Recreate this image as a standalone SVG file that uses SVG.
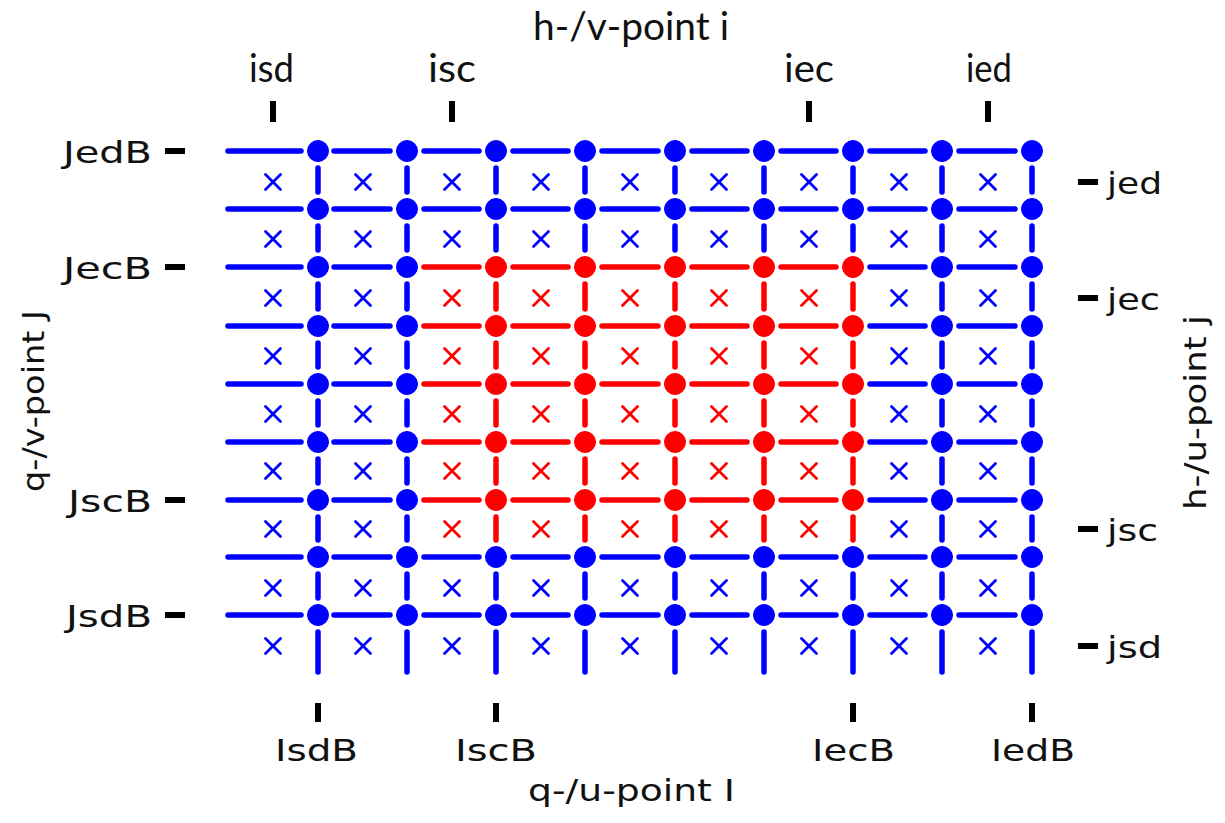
<svg xmlns="http://www.w3.org/2000/svg" xmlns:xlink="http://www.w3.org/1999/xlink" width="1225" height="823" viewBox="0 0 1225 823">
<style>
.b{stroke:#0000ff;fill:#0000ff}
.r{stroke:#ff0000;fill:#ff0000}
.ln{fill:none;stroke-width:5.5;stroke-linecap:round}
.xx{fill:none;stroke-width:2.8;stroke-linecap:round}
.t{font-family:Lato,"Open Sans",sans-serif;font-size:38px;fill:#111}
.c{font-family:"DejaVu Sans",sans-serif;font-size:31px;fill:#111}
.tk{stroke:#000;stroke-width:6;fill:none}
</style>
<defs>
<circle id="d" r="10.5"/>
<path id="x" d="M-7.5,-7.5L7.5,7.5M7.5,-7.5L-7.5,7.5"/>
</defs>
<rect width="1225" height="823" fill="#fff"/>
<g id="connectors">
<path class="ln b" d="M228,151H301M334,151H390M424,151H479M513,151H568M602,151H658M692,151H747M781,151H836M870,151H925M959,151H1015
M228,209H301M334,209H390M424,209H479M513,209H568M602,209H658M692,209H747M781,209H836M870,209H925M959,209H1015
M228,557H301M334,557H390M424,557H479M513,557H568M602,557H658M692,557H747M781,557H836M870,557H925M959,557H1015
M228,615H301M334,615H390M424,615H479M513,615H568M602,615H658M692,615H747M781,615H836M870,615H925M959,615H1015
M228,267H301M334,267H390M870,267H925M959,267H1015
M228,326H301M334,326H390M870,326H925M959,326H1015
M228,384H301M334,384H390M870,384H925M959,384H1015
M228,442H301M334,442H390M870,442H925M959,442H1015
M228,500H301M334,500H390M870,500H925M959,500H1015"/>
<path class="ln r" d="M424,267H479M513,267H568M602,267H658M692,267H747M781,267H836
M424,326H479M513,326H568M602,326H658M692,326H747M781,326H836
M424,384H479M513,384H568M602,384H658M692,384H747M781,384H836
M424,442H479M513,442H568M602,442H658M692,442H747M781,442H836
M424,500H479M513,500H568M602,500H658M692,500H747M781,500H836"/>
<path class="ln b" d="M318,168V192M318,226V250M318,284V309M318,343V367M318,401V425M318,459V483M318,517V540M318,574V598M318,632V672
M407,168V192M407,226V250M407,284V309M407,343V367M407,401V425M407,459V483M407,517V540M407,574V598M407,632V672
M942,168V192M942,226V250M942,284V309M942,343V367M942,401V425M942,459V483M942,517V540M942,574V598M942,632V672
M1032,168V192M1032,226V250M1032,284V309M1032,343V367M1032,401V425M1032,459V483M1032,517V540M1032,574V598M1032,632V672
M496,168V192M496,226V250M496,574V598M496,632V672
M585,168V192M585,226V250M585,574V598M585,632V672
M675,168V192M675,226V250M675,574V598M675,632V672
M764,168V192M764,226V250M764,574V598M764,632V672
M853,168V192M853,226V250M853,574V598M853,632V672"/>
<path class="ln r" d="M496,284V309M496,343V367M496,401V425M496,459V483M496,517V540
M585,284V309M585,343V367M585,401V425M585,459V483M585,517V540
M675,284V309M675,343V367M675,401V425M675,459V483M675,517V540
M764,284V309M764,343V367M764,401V425M764,459V483M764,517V540
M853,284V309M853,343V367M853,401V425M853,459V483M853,517V540"/>
</g>
<g id="crosses" class="xx">
<g class="b">
<use href="#x" x="273" y="182"/><use href="#x" x="363" y="182"/><use href="#x" x="452" y="182"/><use href="#x" x="541" y="182"/><use href="#x" x="630" y="182"/><use href="#x" x="719" y="182"/><use href="#x" x="809" y="182"/><use href="#x" x="899" y="182"/><use href="#x" x="988" y="182"/>
<use href="#x" x="273" y="239"/><use href="#x" x="363" y="239"/><use href="#x" x="452" y="239"/><use href="#x" x="541" y="239"/><use href="#x" x="630" y="239"/><use href="#x" x="719" y="239"/><use href="#x" x="809" y="239"/><use href="#x" x="899" y="239"/><use href="#x" x="988" y="239"/>
<use href="#x" x="273" y="588"/><use href="#x" x="363" y="588"/><use href="#x" x="452" y="588"/><use href="#x" x="541" y="588"/><use href="#x" x="630" y="588"/><use href="#x" x="719" y="588"/><use href="#x" x="809" y="588"/><use href="#x" x="899" y="588"/><use href="#x" x="988" y="588"/>
<use href="#x" x="273" y="646"/><use href="#x" x="363" y="646"/><use href="#x" x="452" y="646"/><use href="#x" x="541" y="646"/><use href="#x" x="630" y="646"/><use href="#x" x="719" y="646"/><use href="#x" x="809" y="646"/><use href="#x" x="899" y="646"/><use href="#x" x="988" y="646"/>
<use href="#x" x="273" y="298"/><use href="#x" x="363" y="298"/><use href="#x" x="899" y="298"/><use href="#x" x="988" y="298"/>
<use href="#x" x="273" y="356"/><use href="#x" x="363" y="356"/><use href="#x" x="899" y="356"/><use href="#x" x="988" y="356"/>
<use href="#x" x="273" y="414"/><use href="#x" x="363" y="414"/><use href="#x" x="899" y="414"/><use href="#x" x="988" y="414"/>
<use href="#x" x="273" y="471"/><use href="#x" x="363" y="471"/><use href="#x" x="899" y="471"/><use href="#x" x="988" y="471"/>
<use href="#x" x="273" y="529"/><use href="#x" x="363" y="529"/><use href="#x" x="899" y="529"/><use href="#x" x="988" y="529"/>
</g>
<g class="r">
<use href="#x" x="452" y="298"/><use href="#x" x="541" y="298"/><use href="#x" x="630" y="298"/><use href="#x" x="719" y="298"/><use href="#x" x="809" y="298"/>
<use href="#x" x="452" y="356"/><use href="#x" x="541" y="356"/><use href="#x" x="630" y="356"/><use href="#x" x="719" y="356"/><use href="#x" x="809" y="356"/>
<use href="#x" x="452" y="414"/><use href="#x" x="541" y="414"/><use href="#x" x="630" y="414"/><use href="#x" x="719" y="414"/><use href="#x" x="809" y="414"/>
<use href="#x" x="452" y="471"/><use href="#x" x="541" y="471"/><use href="#x" x="630" y="471"/><use href="#x" x="719" y="471"/><use href="#x" x="809" y="471"/>
<use href="#x" x="452" y="529"/><use href="#x" x="541" y="529"/><use href="#x" x="630" y="529"/><use href="#x" x="719" y="529"/><use href="#x" x="809" y="529"/>
</g>
</g>
<g id="nodes" style="stroke:none">
<g id="n1-1" class="b"><use href="#d" x="318" y="151"/></g><g id="n1-2" class="b"><use href="#d" x="407" y="151"/></g><g id="n1-3" class="b"><use href="#d" x="496" y="151"/></g><g id="n1-4" class="b"><use href="#d" x="585" y="151"/></g><g id="n1-5" class="b"><use href="#d" x="675" y="151"/></g><g id="n1-6" class="b"><use href="#d" x="764" y="151"/></g><g id="n1-7" class="b"><use href="#d" x="853" y="151"/></g><g id="n1-8" class="b"><use href="#d" x="942" y="151"/></g><g id="n1-9" class="b"><use href="#d" x="1032" y="151"/></g>
<g id="n2-1" class="b"><use href="#d" x="318" y="209"/></g><g id="n2-2" class="b"><use href="#d" x="407" y="209"/></g><g id="n2-3" class="b"><use href="#d" x="496" y="209"/></g><g id="n2-4" class="b"><use href="#d" x="585" y="209"/></g><g id="n2-5" class="b"><use href="#d" x="675" y="209"/></g><g id="n2-6" class="b"><use href="#d" x="764" y="209"/></g><g id="n2-7" class="b"><use href="#d" x="853" y="209"/></g><g id="n2-8" class="b"><use href="#d" x="942" y="209"/></g><g id="n2-9" class="b"><use href="#d" x="1032" y="209"/></g>
<g id="n3-1" class="b"><use href="#d" x="318" y="267"/></g><g id="n3-2" class="b"><use href="#d" x="407" y="267"/></g><g id="n3-3" class="r"><use href="#d" x="496" y="267"/></g><g id="n3-4" class="r"><use href="#d" x="585" y="267"/></g><g id="n3-5" class="r"><use href="#d" x="675" y="267"/></g><g id="n3-6" class="r"><use href="#d" x="764" y="267"/></g><g id="n3-7" class="r"><use href="#d" x="853" y="267"/></g><g id="n3-8" class="b"><use href="#d" x="942" y="267"/></g><g id="n3-9" class="b"><use href="#d" x="1032" y="267"/></g>
<g id="n4-1" class="b"><use href="#d" x="318" y="326"/></g><g id="n4-2" class="b"><use href="#d" x="407" y="326"/></g><g id="n4-3" class="r"><use href="#d" x="496" y="326"/></g><g id="n4-4" class="r"><use href="#d" x="585" y="326"/></g><g id="n4-5" class="r"><use href="#d" x="675" y="326"/></g><g id="n4-6" class="r"><use href="#d" x="764" y="326"/></g><g id="n4-7" class="r"><use href="#d" x="853" y="326"/></g><g id="n4-8" class="b"><use href="#d" x="942" y="326"/></g><g id="n4-9" class="b"><use href="#d" x="1032" y="326"/></g>
<g id="n5-1" class="b"><use href="#d" x="318" y="384"/></g><g id="n5-2" class="b"><use href="#d" x="407" y="384"/></g><g id="n5-3" class="r"><use href="#d" x="496" y="384"/></g><g id="n5-4" class="r"><use href="#d" x="585" y="384"/></g><g id="n5-5" class="r"><use href="#d" x="675" y="384"/></g><g id="n5-6" class="r"><use href="#d" x="764" y="384"/></g><g id="n5-7" class="r"><use href="#d" x="853" y="384"/></g><g id="n5-8" class="b"><use href="#d" x="942" y="384"/></g><g id="n5-9" class="b"><use href="#d" x="1032" y="384"/></g>
<g id="n6-1" class="b"><use href="#d" x="318" y="442"/></g><g id="n6-2" class="b"><use href="#d" x="407" y="442"/></g><g id="n6-3" class="r"><use href="#d" x="496" y="442"/></g><g id="n6-4" class="r"><use href="#d" x="585" y="442"/></g><g id="n6-5" class="r"><use href="#d" x="675" y="442"/></g><g id="n6-6" class="r"><use href="#d" x="764" y="442"/></g><g id="n6-7" class="r"><use href="#d" x="853" y="442"/></g><g id="n6-8" class="b"><use href="#d" x="942" y="442"/></g><g id="n6-9" class="b"><use href="#d" x="1032" y="442"/></g>
<g id="n7-1" class="b"><use href="#d" x="318" y="500"/></g><g id="n7-2" class="b"><use href="#d" x="407" y="500"/></g><g id="n7-3" class="r"><use href="#d" x="496" y="500"/></g><g id="n7-4" class="r"><use href="#d" x="585" y="500"/></g><g id="n7-5" class="r"><use href="#d" x="675" y="500"/></g><g id="n7-6" class="r"><use href="#d" x="764" y="500"/></g><g id="n7-7" class="r"><use href="#d" x="853" y="500"/></g><g id="n7-8" class="b"><use href="#d" x="942" y="500"/></g><g id="n7-9" class="b"><use href="#d" x="1032" y="500"/></g>
<g id="n8-1" class="b"><use href="#d" x="318" y="557"/></g><g id="n8-2" class="b"><use href="#d" x="407" y="557"/></g><g id="n8-3" class="b"><use href="#d" x="496" y="557"/></g><g id="n8-4" class="b"><use href="#d" x="585" y="557"/></g><g id="n8-5" class="b"><use href="#d" x="675" y="557"/></g><g id="n8-6" class="b"><use href="#d" x="764" y="557"/></g><g id="n8-7" class="b"><use href="#d" x="853" y="557"/></g><g id="n8-8" class="b"><use href="#d" x="942" y="557"/></g><g id="n8-9" class="b"><use href="#d" x="1032" y="557"/></g>
<g id="n9-1" class="b"><use href="#d" x="318" y="615"/></g><g id="n9-2" class="b"><use href="#d" x="407" y="615"/></g><g id="n9-3" class="b"><use href="#d" x="496" y="615"/></g><g id="n9-4" class="b"><use href="#d" x="585" y="615"/></g><g id="n9-5" class="b"><use href="#d" x="675" y="615"/></g><g id="n9-6" class="b"><use href="#d" x="764" y="615"/></g><g id="n9-7" class="b"><use href="#d" x="853" y="615"/></g><g id="n9-8" class="b"><use href="#d" x="942" y="615"/></g><g id="n9-9" class="b"><use href="#d" x="1032" y="615"/></g>
</g>
<g id="ticks" class="tk">
<path d="M273,101V122M452,101V122M809,101V122M988,101V122"/>
<path d="M318,703V722M496,703V722M853,703V722M1032,703V722"/>
<path d="M165,151H185M165,267H185M165,500H185M165,615H185"/>
<path d="M1078,182H1098M1078,298H1098M1078,529H1098M1078,646H1098"/>
</g>
<g id="labels">
<g class="t">
<text x="533" y="40" textLength="196" lengthAdjust="spacingAndGlyphs">h-/v-point i</text>
<text x="249" y="82" textLength="45" lengthAdjust="spacingAndGlyphs">isd</text>
<text x="428" y="82" textLength="48" lengthAdjust="spacingAndGlyphs">isc</text>
<text x="784" y="82" textLength="50" lengthAdjust="spacingAndGlyphs">iec</text>
<text x="966" y="82" textLength="46" lengthAdjust="spacingAndGlyphs">ied</text>
</g>
<g class="c">
<text x="275" y="761" textLength="83" lengthAdjust="spacingAndGlyphs">IsdB</text>
<text x="455" y="761" textLength="82" lengthAdjust="spacingAndGlyphs">IscB</text>
<text x="812" y="761" textLength="83" lengthAdjust="spacingAndGlyphs">IecB</text>
<text x="991" y="761" textLength="84" lengthAdjust="spacingAndGlyphs">IedB</text>
<text x="528" y="801" textLength="207" lengthAdjust="spacingAndGlyphs">q-/u-point I</text>
<text x="63" y="163" textLength="89" lengthAdjust="spacingAndGlyphs">JedB</text>
<text x="63" y="279" textLength="89" lengthAdjust="spacingAndGlyphs">JecB</text>
<text x="68" y="512" textLength="84" lengthAdjust="spacingAndGlyphs">JscB</text>
<text x="66" y="627" textLength="86" lengthAdjust="spacingAndGlyphs">JsdB</text>
<text x="1107" y="194" textLength="55" lengthAdjust="spacingAndGlyphs">jed</text>
<text x="1107" y="310" textLength="53" lengthAdjust="spacingAndGlyphs">jec</text>
<text x="1107" y="541" textLength="51" lengthAdjust="spacingAndGlyphs">jsc</text>
<text x="1107" y="658" textLength="55" lengthAdjust="spacingAndGlyphs">jsd</text>
<text transform="translate(44,492) rotate(-90)" textLength="182" lengthAdjust="spacingAndGlyphs">q-/v-point J</text>
<text transform="translate(1206,510) rotate(-90)" textLength="195" lengthAdjust="spacingAndGlyphs">h-/u-point j</text>
</g>
</g>
</svg>
